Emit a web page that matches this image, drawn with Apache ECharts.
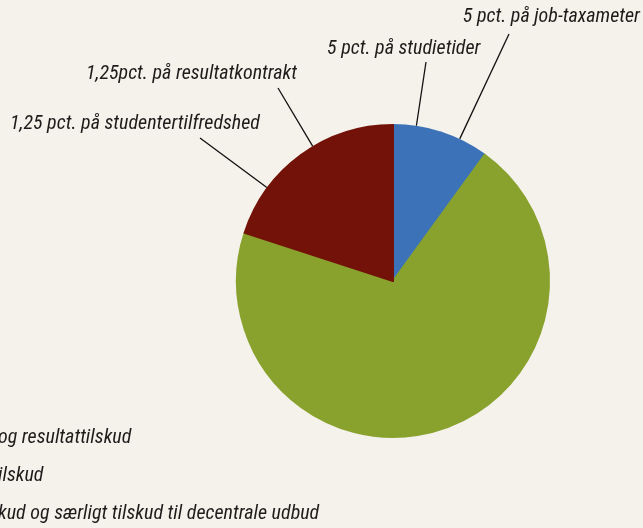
<!DOCTYPE html>
<html><head><meta charset="utf-8">
<script src="https://cdn.jsdelivr.net/npm/echarts@6/dist/echarts.min.js"></script>
<style>html,body{margin:0;padding:0;background:#f5f1eb;}#c{width:643px;height:528px;}</style>
</head><body><div id="c"></div>
<script>
// ---- data ----
const sliceNames = ['5 pct. på studietider', '5 pct. på job-taxameter', 'Øvrige tilskud', '1,25 pct. på studentertilfredshed', '1,25pct. på resultatkontrakt'];
const sliceValues = [5, 5, 70, 10, 10];
const sliceColors = ['#3c72b8', '#3c72b8', '#89a22e', '#731208', '#731208'];
const sliceShowLabel = [true, true, false, true, true];
const legendTexts = ['og resultattilskud', 'ilskud', 'kud og særligt tilskud til decentrale udbud'];

// ---- layout ----
const CX = 393, CY = 281, R = 156;
const FONT = '"Roboto Condensed","DejaVu Sans Condensed",sans-serif';
const labelLayoutTable = {
  0: {x: 327, y: 39, align: 'left', end: [426, 62]},
  1: {x: 640, y: 7, align: 'right', end: [509, 34]},
  3: {x: 10, y: 114, align: 'left', end: [200, 138]},
  4: {x: 86, y: 64, align: 'left', end: [278, 88]}
};
const legendTops = [428, 466, 504];

const total = sliceValues.reduce((a, b) => a + b, 0);
const cum = [0];
sliceValues.forEach((v, i) => cum.push(cum[i] + v));

const chart = echarts.init(document.getElementById('c'));
chart.setOption({
  backgroundColor: '#f5f1eb',
  animation: false,
  series: [{
    type: 'pie',
    center: [CX, CY],
    radius: R,
    startAngle: 90,
    clockwise: true,
    data: sliceNames.map((n, i) => ({
      name: n, value: sliceValues[i],
      itemStyle: {color: sliceColors[i], borderColor: sliceColors[i], borderWidth: 2},
      label: {show: sliceShowLabel[i]},
      labelLine: {show: sliceShowLabel[i]}
    })),
    label: {
      show: true, formatter: '{b}', color: '#1e1b1a', overflow: 'none',
      fontFamily: FONT, fontStyle: 'italic', fontSize: 20
    },
    labelLine: {show: true, lineStyle: {color: '#111', width: 1.3}},
    labelLayout: function (p) {
      const L = labelLayoutTable[p.dataIndex];
      if (!L) return {};
      const a0 = cum[p.dataIndex] / total * 360, a1 = cum[p.dataIndex + 1] / total * 360;
      let ang = Math.atan2(L.end[0] - CX, -(L.end[1] - CY)) * 180 / Math.PI;
      if (ang < 0) ang += 360;
      ang = Math.min(Math.max(ang, a0 + 1), a1 - 1);
      const rad = ang * Math.PI / 180;
      const start = [CX + (R + 1) * Math.sin(rad), CY - (R + 1) * Math.cos(rad)];
      return {
        x: L.x, y: L.y, align: L.align, verticalAlign: 'top',
        labelLinePoints: [start, L.end, L.end]
      };
    }
  }],
  graphic: legendTexts.map((t, i) => ({
    type: 'text', left: -2, top: legendTops[i],
    style: {text: t, font: 'italic 20px ' + FONT, fill: '#1e1b1a'}
  }))
});
</script></body></html>
